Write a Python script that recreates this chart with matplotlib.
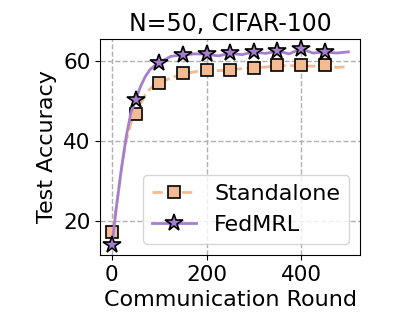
import matplotlib
matplotlib.use("Agg")
import matplotlib.pyplot as plt

rounds = [0, 10, 20, 30, 40, 50, 60, 70, 80, 90, 100, 125, 150, 175, 200, 225,
          250, 275, 300, 325, 350, 375, 400, 425, 450, 475, 500]
standalone = [17.3, 24.0, 33.0, 40.0, 44.5, 46.7, 49.0, 51.5, 53.0, 54.0, 54.5,
              55.8, 56.9, 57.3, 57.8, 57.6, 57.8, 58.1, 58.3, 58.5, 58.9, 58.8,
              58.9, 58.7, 58.9, 58.4, 58.6]
fedmrl = [14.0, 24.0, 33.0, 41.0, 47.0, 50.2, 53.5, 56.0, 57.8, 58.8, 59.6,
          61.2, 61.5, 61.8, 61.7, 61.3, 61.9, 61.6, 62.3, 61.9, 62.5, 61.8,
          63.1, 62.0, 62.3, 62.0, 62.3]
marker_rounds = [0, 50, 100, 150, 200, 250, 300, 350, 400, 450]
mark_idx = [rounds.index(r) for r in marker_rounds]

ORANGE = "#F4BB92"
PURPLE = "#A57FCE"

fig = plt.figure(figsize=(4.02, 3.21), dpi=100)
ax = fig.add_axes([0.249, 0.206, 0.647, 0.673])

ax.plot(rounds, standalone, linestyle="--", color=ORANGE, linewidth=2,
        marker="s", markersize=9, markerfacecolor=ORANGE, markeredgecolor="black",
        markeredgewidth=1.2, markevery=mark_idx, label="Standalone")
ax.plot(rounds, fedmrl, linestyle="-", color=PURPLE, linewidth=2,
        marker="*", markersize=13, markerfacecolor=PURPLE, markeredgecolor="black",
        markeredgewidth=1.2, markevery=mark_idx, label="FedMRL")

ax.set_xticks([0, 200, 400])
ax.set_yticks([20, 40, 60])
ax.tick_params(labelsize=15.5)
ax.grid(True, linestyle="--", color="#b0b0b0", linewidth=1)
ax.set_xlabel("Communication Round", fontsize=16)
ax.set_ylabel("Test Accuracy", fontsize=16)
ax.set_title("N=50, CIFAR-100", fontsize=17)
ax.legend(loc="lower right", fontsize=16)

fig.savefig("out.png", dpi=100)
